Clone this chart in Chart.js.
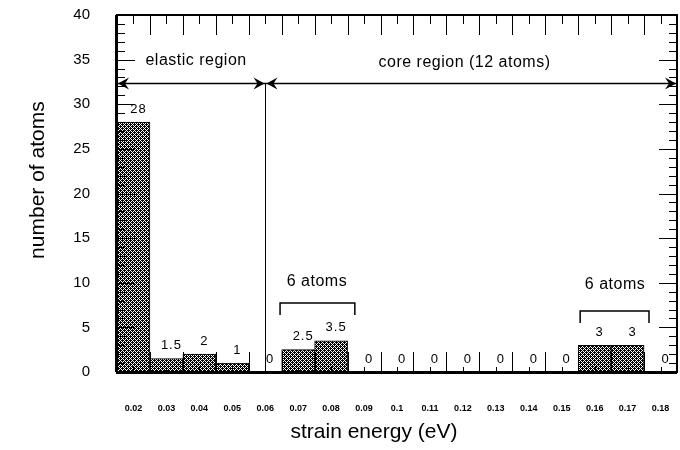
<!DOCTYPE html>
<html>
<head>
<meta charset="utf-8">
<script src="https://cdn.jsdelivr.net/npm/chart.js@4/dist/chart.umd.min.js"></script>
<style>
  html, body { margin: 0; padding: 0; background: #fff; }
</style>
</head>
<body>
<canvas id="strainChart" width="680" height="450"></canvas>
<script>
// strain energy bins (eV) and number of atoms per bin
const energies = ['0.02', '0.03', '0.04', '0.05', '0.06', '0.07', '0.08', '0.09', '0.1',
                  '0.11', '0.12', '0.13', '0.14', '0.15', '0.16', '0.17', '0.18'];
const atomCounts = [28, 1.5, 2, 1, 0, 2.5, 3.5, 0, 0, 0, 0, 0, 0, 0, 3, 3, 0];
const yTicks = [0, 5, 10, 15, 20, 25, 30, 35, 40];

const FONT = "'Liberation Sans', Arial, Helvetica, sans-serif";

// cross-hatch fill
const pc = document.createElement('canvas');
pc.width = 4; pc.height = 4;
const pctx = pc.getContext('2d');
pctx.fillStyle = '#000';
pctx.fillRect(0, 0, 4, 4);
pctx.fillStyle = '#fff';
for (let x = 0; x < 4; x++) {
  for (let y = 0; y < 4; y++) {
    if ((x + y) % 4 === 0 || (x - y + 8) % 4 === 0) pctx.fillRect(x, y, 1, 1);
  }
}
const hatch = pctx.createPattern(pc, 'repeat');

function arrowHead(ctx, x, y, dir) {
  ctx.beginPath();
  ctx.moveTo(x, y);
  ctx.lineTo(x - dir * 11, y - 6);
  ctx.lineTo(x - dir * 7, y);
  ctx.lineTo(x - dir * 11, y + 6);
  ctx.closePath();
  ctx.fill();
}

function bracket(ctx, x1, x2, yTop, yLeg) {
  ctx.beginPath();
  ctx.moveTo(x1, yLeg);
  ctx.lineTo(x1, yTop);
  ctx.lineTo(x2, yTop);
  ctx.lineTo(x2, yLeg);
  ctx.stroke();
}

// no automatic edge padding, the layout padding decides the plot box
function noEdgePadding(scale) {
  scale.paddingTop = 0;
  scale.paddingBottom = 0;
  scale.paddingLeft = 0;
  scale.paddingRight = 0;
}

const decorations = {
  id: 'decorations',
  afterDraw(chart) {
    const ctx = chart.ctx;
    const xs = chart.scales.x, ys = chart.scales.y;
    const { left, right, top, bottom } = chart.chartArea;
    ctx.save();
    ctx.strokeStyle = '#000';
    ctx.fillStyle = '#000';

    // ticks on all four sides, pointing inward
    ctx.lineWidth = 1;
    ctx.beginPath();
    for (let v = 1; v < 40; v++) {
      const py = Math.round(ys.getPixelForValue(v)) + 0.5;
      const len = v % 5 === 0 ? 18 : 8;
      ctx.moveTo(left, py); ctx.lineTo(left + len, py);
      ctx.moveTo(right, py); ctx.lineTo(right - len, py);
    }
    for (let i = 0; i <= energies.length; i++) {
      const px = Math.round(xs.getPixelForValue(i - 0.5)) + 0.5;
      ctx.moveTo(px, top); ctx.lineTo(px, top + 20);
      ctx.moveTo(px, bottom); ctx.lineTo(px, bottom - 20);
    }
    for (let i = 0; i < energies.length; i++) {
      const px = Math.round(xs.getPixelForValue(i)) + 0.5;
      ctx.moveTo(px, top); ctx.lineTo(px, top + 9);
      ctx.moveTo(px, bottom); ctx.lineTo(px, bottom - 5);
    }
    ctx.stroke();

    // frame
    ctx.lineWidth = 2;
    ctx.strokeRect(left, top, right - left, bottom - top);
    ctx.lineWidth = 3;
    ctx.beginPath();
    ctx.moveTo(left - 1, bottom + 0.5); ctx.lineTo(right, bottom + 0.5);
    ctx.moveTo(left - 0.5, top); ctx.lineTo(left - 0.5, bottom);
    ctx.stroke();

    // value labels above bars
    ctx.font = '13px ' + FONT;
    ctx.letterSpacing = '1px';
    ctx.textAlign = 'center';
    ctx.textBaseline = 'middle';
    chart.getDatasetMeta(0).data.forEach((bar, i) => {
      ctx.fillText(String(atomCounts[i]), bar.x + 5, bar.y - 13);
    });

    // region arrows and divider
    const divX = Math.round(xs.getPixelForValue(4)) + 0.5;
    const ay = Math.round(ys.getPixelForValue(32.4)) + 0.5;
    ctx.lineWidth = 1.5;
    ctx.beginPath();
    ctx.moveTo(left, ay); ctx.lineTo(right, ay);
    ctx.stroke();
    ctx.lineWidth = 1;
    ctx.beginPath();
    ctx.moveTo(divX, ay); ctx.lineTo(divX, bottom);
    ctx.stroke();
    arrowHead(ctx, left + 1, ay, -1);
    arrowHead(ctx, divX - 1, ay, 1);
    arrowHead(ctx, divX + 1, ay, -1);
    arrowHead(ctx, right - 1, ay, 1);

    ctx.font = '16px ' + FONT;
    ctx.letterSpacing = '0.5px';
    ctx.fillText('elastic region', xs.getPixelForValue(1.9), ys.getPixelForValue(34.9));
    ctx.fillText('core region (12 atoms)', xs.getPixelForValue(10.05), ys.getPixelForValue(34.7));

    // 6 atoms brackets
    ctx.lineWidth = 1.5;
    bracket(ctx, xs.getPixelForValue(4.45), xs.getPixelForValue(6.72),
            ys.getPixelForValue(7.73), ys.getPixelForValue(6.39));
    bracket(ctx, xs.getPixelForValue(13.56), xs.getPixelForValue(15.65),
            ys.getPixelForValue(6.83), ys.getPixelForValue(5.49));
    ctx.fillText('6 atoms', xs.getPixelForValue(5.57), ys.getPixelForValue(10.08));
    ctx.fillText('6 atoms', xs.getPixelForValue(14.62), ys.getPixelForValue(9.75));

    // axis titles
    ctx.letterSpacing = '0px';
    ctx.font = '21px ' + FONT;
    ctx.fillText('strain energy (eV)', xs.getPixelForValue(7.3), 432);
    ctx.translate(38, ys.getPixelForValue(21.5));
    ctx.rotate(-Math.PI / 2);
    ctx.fillText('number of atoms', 0, 0);
    ctx.restore();
  }
};

const ctx = document.getElementById('strainChart').getContext('2d');
const strainChart = new Chart(ctx, {
  type: 'bar',
  data: {
    labels: energies,
    datasets: [{
      label: 'number of atoms',
      data: atomCounts,
      backgroundColor: hatch,
      borderColor: '#000',
      borderWidth: 1,
      barPercentage: 1,
      categoryPercentage: 1
    }]
  },
  options: {
    responsive: false,
    animation: false,
    devicePixelRatio: 1,
    layout: { padding: { top: 15, right: 3, left: 0, bottom: 0 } },
    plugins: {
      legend: { display: false },
      tooltip: { enabled: false }
    },
    scales: {
      x: {
        grid: { display: false, drawTicks: false },
        border: { display: false },
        ticks: {
          color: '#000',
          font: { family: FONT, size: 9, weight: 'bold' },
          padding: 31,
          maxRotation: 0,
          autoSkip: false
        },
        afterFit(scale) {
          scale.height = 78;
          noEdgePadding(scale);
        }
      },
      y: {
        min: 0,
        max: 40,
        grid: { display: false, drawTicks: false },
        border: { display: false },
        afterBuildTicks(scale) { scale.ticks = yTicks.map(v => ({ value: v })); },
        ticks: {
          color: '#000',
          font: { family: FONT, size: 15 },
          padding: 27
        },
        afterFit(scale) {
          scale.width = 117;
          noEdgePadding(scale);
        }
      }
    }
  },
  plugins: [decorations]
});
</script>
</body>
</html>
